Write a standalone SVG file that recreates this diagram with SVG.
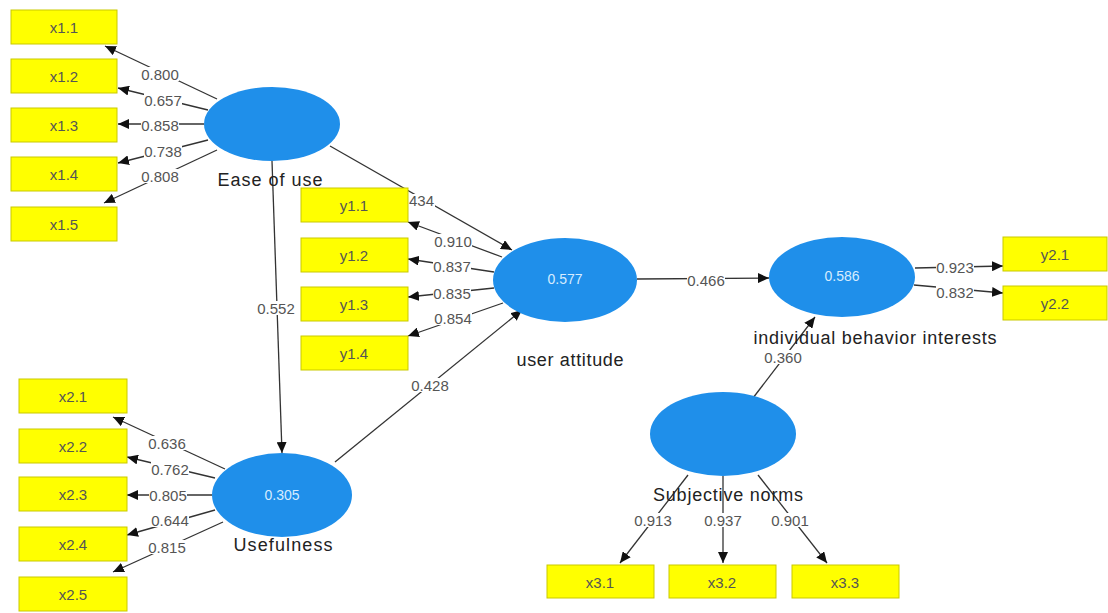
<svg xmlns="http://www.w3.org/2000/svg" width="1108" height="613" viewBox="0 0 1108 613">
  <defs>
    <marker id="arrow" markerUnits="userSpaceOnUse" markerWidth="12" markerHeight="10" refX="11" refY="5" orient="auto">
      <path d="M0,0 L11,5 L0,10 z" fill="#111"/>
    </marker>
    <style>
      .edge { stroke: #333; stroke-width: 1.3; fill: none; marker-end: url(#arrow); }
      .lbl-bg { fill: #fff; }
      .lbl { font-family: "Liberation Sans", Arial, sans-serif; font-size: 15px; fill: #555; text-anchor: middle; dominant-baseline: central; }
      .latent { fill: #1f8fea; }
      .val { font-family: "Liberation Sans", Arial, sans-serif; font-size: 14px; fill: #d6ecff; text-anchor: middle; dominant-baseline: central; }
      .title { font-family: "Liberation Sans", Arial, sans-serif; font-size: 18px; fill: #222; text-anchor: middle; }
      .ind { fill: #ffff00; stroke: #c9c900; stroke-width: 1; }
      .ind-t { font-family: "Liberation Sans", Arial, sans-serif; font-size: 15px; fill: #555; text-anchor: middle; dominant-baseline: central; }
    </style>
  </defs>
  <rect width="1108" height="613" fill="#fff"/>

  <!-- paths and loadings -->
  <g id="connectors">
    <!-- Ease of use loadings -->
    <line class="edge" x1="217" y1="99" x2="105" y2="46"/>
    <line class="edge" x1="208" y1="110" x2="118" y2="88"/>
    <line class="edge" x1="204" y1="124" x2="118" y2="124"/>
    <line class="edge" x1="208" y1="140" x2="118" y2="163"/>
    <line class="edge" x1="217" y1="150" x2="104" y2="203"/>
    <!-- Usefulness loadings -->
    <line class="edge" x1="225" y1="469" x2="113" y2="417"/>
    <line class="edge" x1="215" y1="478" x2="127" y2="457"/>
    <line class="edge" x1="212" y1="495" x2="127" y2="495"/>
    <line class="edge" x1="215" y1="510" x2="127" y2="535"/>
    <line class="edge" x1="223" y1="522" x2="113" y2="572"/>
    <!-- user attitude loadings -->
    <line class="edge" x1="502" y1="257" x2="408" y2="222"/>
    <line class="edge" x1="494" y1="272" x2="408" y2="259"/>
    <line class="edge" x1="494" y1="288" x2="408" y2="297"/>
    <line class="edge" x1="503" y1="303" x2="408" y2="336"/>
    <!-- individual behavior interests loadings -->
    <line class="edge" x1="915" y1="268" x2="1003" y2="266"/>
    <line class="edge" x1="914" y1="285" x2="1003" y2="293"/>
    <!-- Subjective norms loadings -->
    <line class="edge" x1="688" y1="475" x2="620" y2="563"/>
    <line class="edge" x1="723" y1="476" x2="723" y2="563"/>
    <line class="edge" x1="758" y1="475" x2="827" y2="563"/>
    <!-- structural paths -->
    <line class="edge" x1="272" y1="161" x2="282" y2="453"/>
    <line class="edge" x1="330" y1="146" x2="512" y2="250"/>
    <line class="edge" x1="335" y1="462" x2="522" y2="310"/>
    <line class="edge" x1="637" y1="279" x2="769" y2="278"/>
    <line class="edge" x1="753" y1="398" x2="815" y2="317"/>

    <!-- coefficient labels -->
    <g>
      <rect class="lbl-bg" x="141" y="67" width="38" height="14"/><text class="lbl" x="160" y="74">0.800</text>
      <rect class="lbl-bg" x="144" y="93" width="38" height="14"/><text class="lbl" x="163" y="100">0.657</text>
      <rect class="lbl-bg" x="141" y="118" width="38" height="14"/><text class="lbl" x="160" y="125">0.858</text>
      <rect class="lbl-bg" x="144" y="144" width="38" height="14"/><text class="lbl" x="163" y="151">0.738</text>
      <rect class="lbl-bg" x="141" y="169" width="38" height="14"/><text class="lbl" x="160" y="176">0.808</text>

      <rect class="lbl-bg" x="148" y="436" width="38" height="14"/><text class="lbl" x="167" y="443">0.636</text>
      <rect class="lbl-bg" x="151" y="462" width="38" height="14"/><text class="lbl" x="170" y="469">0.762</text>
      <rect class="lbl-bg" x="149" y="488" width="38" height="14"/><text class="lbl" x="168" y="495">0.805</text>
      <rect class="lbl-bg" x="151" y="513" width="38" height="14"/><text class="lbl" x="170" y="520">0.644</text>
      <rect class="lbl-bg" x="148" y="540" width="38" height="14"/><text class="lbl" x="167" y="547">0.815</text>

      <rect class="lbl-bg" x="434" y="234" width="38" height="14"/><text class="lbl" x="453" y="241">0.910</text>
      <rect class="lbl-bg" x="433" y="259" width="38" height="14"/><text class="lbl" x="452" y="266">0.837</text>
      <rect class="lbl-bg" x="433" y="286" width="38" height="14"/><text class="lbl" x="452" y="293">0.835</text>
      <rect class="lbl-bg" x="434" y="311" width="38" height="14"/><text class="lbl" x="453" y="318">0.854</text>

      <rect class="lbl-bg" x="936" y="260" width="38" height="14"/><text class="lbl" x="955" y="267">0.923</text>
      <rect class="lbl-bg" x="936" y="285" width="38" height="14"/><text class="lbl" x="955" y="292">0.832</text>

      <rect class="lbl-bg" x="634" y="513" width="38" height="14"/><text class="lbl" x="653" y="520">0.913</text>
      <rect class="lbl-bg" x="704" y="513" width="38" height="14"/><text class="lbl" x="723" y="520">0.937</text>
      <rect class="lbl-bg" x="771" y="513" width="38" height="14"/><text class="lbl" x="790" y="520">0.901</text>

      <rect class="lbl-bg" x="257" y="301" width="38" height="14"/><text class="lbl" x="276" y="308">0.552</text>
      <rect class="lbl-bg" x="408" y="194" width="27" height="14"/><text class="lbl" x="409" y="200" style="text-anchor:start">434</text>
      <rect class="lbl-bg" x="411" y="378" width="38" height="14"/><text class="lbl" x="430" y="385">0.428</text>
      <rect class="lbl-bg" x="687" y="273" width="38" height="14"/><text class="lbl" x="706" y="280">0.466</text>
      <rect class="lbl-bg" x="764" y="350" width="38" height="14"/><text class="lbl" x="783" y="357">0.360</text>
    </g>
  </g>

  <!-- latent variables -->
  <g id="ease-of-use">
    <ellipse class="latent" cx="272" cy="124" rx="68" ry="37"/>
    <text class="title" x="270" y="186" textLength="105" lengthAdjust="spacing">Ease of use</text>
  </g>
  <g id="usefulness">
    <ellipse class="latent" cx="282" cy="495" rx="70" ry="42"/>
    <text class="val" x="282" y="495">0.305</text>
    <text class="title" x="283" y="551" textLength="99" lengthAdjust="spacing">Usefulness</text>
  </g>
  <g id="user-attitude">
    <ellipse class="latent" cx="565" cy="280" rx="72" ry="42"/>
    <text class="val" x="565" y="279">0.577</text>
    <text class="title" x="570" y="366" textLength="107" lengthAdjust="spacing">user attitude</text>
  </g>
  <g id="individual-behavior-interests">
    <ellipse class="latent" cx="842" cy="277" rx="73" ry="40"/>
    <text class="val" x="842" y="276">0.586</text>
    <text class="title" x="875" y="344" textLength="243" lengthAdjust="spacing">individual behavior interests</text>
  </g>
  <g id="subjective-norms">
    <ellipse class="latent" cx="723" cy="434" rx="73" ry="42"/>
    <text class="title" x="728" y="501" textLength="150" lengthAdjust="spacing">Subjective norms</text>
  </g>

  <!-- indicators -->
  <g id="x1.1"><rect class="ind" x="11" y="10" width="106" height="34"/><text class="ind-t" x="64" y="27">x1.1</text></g>
  <g id="x1.2"><rect class="ind" x="11" y="59" width="106" height="34"/><text class="ind-t" x="64" y="76">x1.2</text></g>
  <g id="x1.3"><rect class="ind" x="11" y="108" width="106" height="34"/><text class="ind-t" x="64" y="125">x1.3</text></g>
  <g id="x1.4"><rect class="ind" x="11" y="157" width="106" height="34"/><text class="ind-t" x="64" y="174">x1.4</text></g>
  <g id="x1.5"><rect class="ind" x="11" y="207" width="106" height="34"/><text class="ind-t" x="64" y="224">x1.5</text></g>

  <g id="y1.1"><rect class="ind" x="301" y="188" width="107" height="34"/><text class="ind-t" x="354" y="205">y1.1</text></g>
  <g id="y1.2"><rect class="ind" x="301" y="238" width="107" height="34"/><text class="ind-t" x="354" y="255">y1.2</text></g>
  <g id="y1.3"><rect class="ind" x="301" y="287" width="107" height="34"/><text class="ind-t" x="354" y="304">y1.3</text></g>
  <g id="y1.4"><rect class="ind" x="301" y="336" width="107" height="34"/><text class="ind-t" x="354" y="353">y1.4</text></g>

  <g id="x2.1"><rect class="ind" x="19" y="379" width="108" height="34"/><text class="ind-t" x="73" y="396">x2.1</text></g>
  <g id="x2.2"><rect class="ind" x="19" y="429" width="108" height="34"/><text class="ind-t" x="73" y="446">x2.2</text></g>
  <g id="x2.3"><rect class="ind" x="19" y="477" width="108" height="34"/><text class="ind-t" x="73" y="494">x2.3</text></g>
  <g id="x2.4"><rect class="ind" x="19" y="527" width="108" height="34"/><text class="ind-t" x="73" y="544">x2.4</text></g>
  <g id="x2.5"><rect class="ind" x="19" y="577" width="108" height="34"/><text class="ind-t" x="73" y="594">x2.5</text></g>

  <g id="y2.1"><rect class="ind" x="1003" y="237" width="104" height="34"/><text class="ind-t" x="1055" y="254">y2.1</text></g>
  <g id="y2.2"><rect class="ind" x="1003" y="286" width="104" height="34"/><text class="ind-t" x="1055" y="303">y2.2</text></g>

  <g id="x3.1"><rect class="ind" x="547" y="565" width="107" height="33"/><text class="ind-t" x="600" y="582">x3.1</text></g>
  <g id="x3.2"><rect class="ind" x="669" y="565" width="107" height="33"/><text class="ind-t" x="722" y="582">x3.2</text></g>
  <g id="x3.3"><rect class="ind" x="792" y="565" width="107" height="33"/><text class="ind-t" x="845" y="582">x3.3</text></g>
</svg>
